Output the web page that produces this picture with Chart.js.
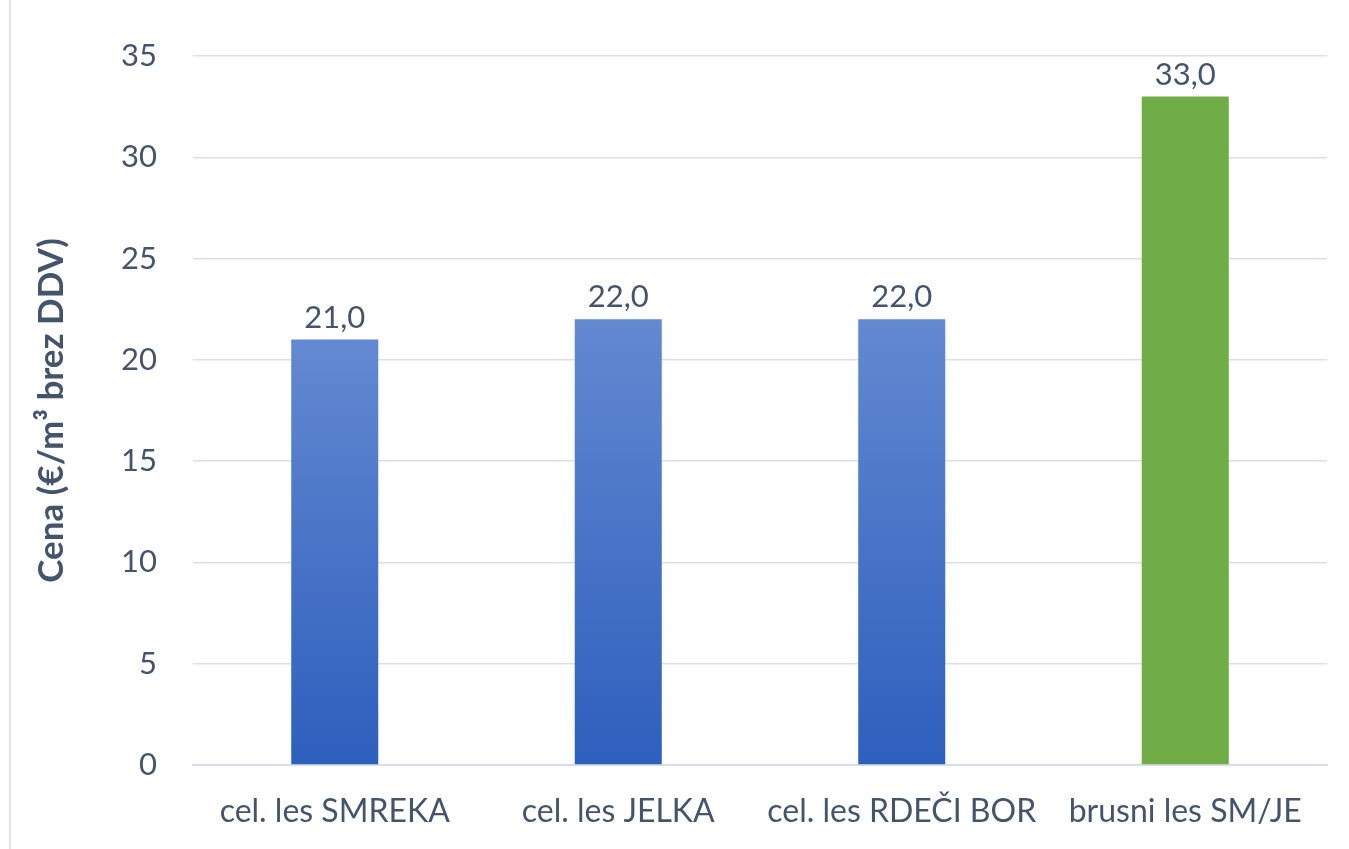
<!DOCTYPE html>
<html>
<head>
<meta charset="utf-8">
<script src="https://cdn.jsdelivr.net/npm/chart.js@4.4.1/dist/chart.umd.min.js"></script>
<style>
  html, body { margin: 0; padding: 0; background: #ffffff; }
  #wrap { position: relative; width: 1349px; height: 849px; }
  #edge { position: absolute; left: 9px; top: 0; width: 2px; height: 849px; background: #dfe5ef; }
  canvas { position: absolute; left: 0; top: 0; }
</style>
</head>
<body>
<div id="wrap">
  <div id="edge"></div>
  <canvas id="c" width="1349" height="849"></canvas>
</div>
<script>
const categories = ["cel. les SMREKA", "cel. les JELKA", "cel. les RDEČI BOR", "brusni les SM/JE"];
const prices = [21.0, 22.0, 22.0, 33.0];
const yTicks = [0, 5, 10, 15, 20, 25, 30, 35];
const yTitle = "Cena (€/m³ brez DDV)";

const FONT = "Lato, 'Open Sans', sans-serif";
const TEXT = "#44546a";
const blueTop = "#6389d1", blueBottom = "#2d5fbd", green = "#70ad47";

function barFill(ctx) {
  const chart = ctx.chart;
  if (ctx.dataIndex === 3) return green;
  const ys = chart.scales.y;
  if (!ys || !chart.chartArea) return blueBottom;
  const top = ys.getPixelForValue(prices[ctx.dataIndex]);
  const bot = ys.getPixelForValue(0);
  const g = chart.ctx.createLinearGradient(0, top, 0, bot);
  g.addColorStop(0, blueTop);
  g.addColorStop(1, blueBottom);
  return g;
}

const valueLabels = {
  id: "valueLabels",
  afterDatasetsDraw(chart) {
    const meta = chart.getDatasetMeta(0);
    const c = chart.ctx;
    c.save();
    c.font = "31px " + FONT;
    c.fillStyle = TEXT;
    c.textAlign = "center";
    c.textBaseline = "alphabetic";
    meta.data.forEach((bar, i) => {
      c.fillText(prices[i].toFixed(1).replace(".", ","), bar.x, bar.y - 12);
    });
    c.restore();
  }
};

new Chart(document.getElementById("c"), {
  type: "bar",
  data: {
    labels: categories,
    datasets: [{
      data: prices,
      backgroundColor: barFill,
      borderWidth: 0,
      categoryPercentage: 1.0,
      barPercentage: 0.307
    }]
  },
  options: {
    responsive: false,
    animation: false,
    devicePixelRatio: 1,
    layout: { padding: { left: 12, right: 22, top: 56, bottom: 0 } },
    plugins: { legend: { display: false }, tooltip: { enabled: false } },
    scales: {
      x: {
        grid: { display: false, drawTicks: false },
        border: { color: "#d9dde5", width: 2 },
        ticks: { color: TEXT, font: { family: FONT, size: 32 }, padding: 27, maxRotation: 0, autoSkip: false },
        afterFit(s) { s.height = 84; }
      },
      y: {
        min: 0, max: 35,
        afterBuildTicks(s) { s.ticks = yTicks.map(v => ({ value: v })); },
        grid: { color: "#dcdfe4", lineWidth: 1.5, drawTicks: false },
        border: { display: false },
        ticks: { color: TEXT, font: { family: FONT, size: 31 }, padding: 36 },
        title: { display: true, text: yTitle, color: TEXT, font: { family: FONT, size: 35, weight: "bold" }, padding: { top: 19, bottom: 0 } },
        afterFit(s) { s.width = 193 - 12; }
      }
    }
  },
  plugins: [valueLabels]
});
</script>
</body>
</html>
